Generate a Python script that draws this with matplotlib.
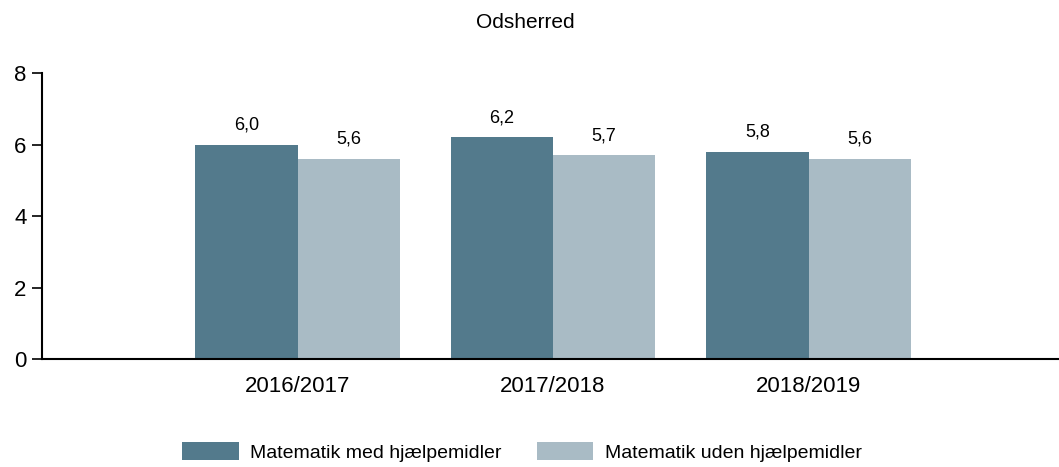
import numpy as np
import matplotlib.pyplot as plt

plt.rcParams['font.family'] = ['Liberation Sans', 'DejaVu Sans']

# data
years = ['2016/2017', '2017/2018', '2018/2019']
med = [6.0, 6.2, 5.8]
uden = [5.6, 5.7, 5.6]
series_names = ['Matematik med hjælpemidler', 'Matematik uden hjælpemidler']
colors = ['#537a8c', '#a9bbc5']

fig = plt.figure(figsize=(10.59, 4.67), dpi=100)
ax = fig.add_axes([42 / 1059, 1 - 359 / 467, 1017 / 1059, 286 / 467])

x = np.arange(1, len(years) + 1)
w = 0.4
b1 = ax.bar(x - w / 2, med, w, color=colors[0], label=series_names[0])
b2 = ax.bar(x + w / 2, uden, w, color=colors[1], label=series_names[1])

for bars, vals in [(b1, med), (b2, uden)]:
    for rect, v in zip(bars, vals):
        ax.annotate(f'{v:.1f}'.replace('.', ','),
                    (rect.get_x() + rect.get_width() / 2, rect.get_height()),
                    xytext=(0, 8), textcoords='offset points',
                    ha='center', va='bottom', fontsize=13)

ax.set_xlim(0, 3.98)
ax.set_ylim(0, 8)
ax.set_yticks([0, 2, 4, 6, 8])
ax.set_xticks(x)
ax.set_xticklabels(years)
ax.tick_params(axis='y', labelsize=16, length=7, width=1.2, pad=4)
ax.tick_params(axis='x', labelsize=16, length=0, pad=12)
for s in ['top', 'right']:
    ax.spines[s].set_visible(False)
ax.spines['left'].set_linewidth(1.5)
ax.spines['bottom'].set_linewidth(1.5)

fig.text(525 / 1059, 1 - 22 / 467, 'Odsherred', ha='center', va='center', fontsize=15)

fig.legend(loc='center', bbox_to_anchor=(522 / 1059, 1 - 452 / 467), ncol=2,
           frameon=False, fontsize=14, handlelength=2.9, handleheight=1.0,
           columnspacing=1.8, handletextpad=0.6)

fig.savefig('out.png', dpi=100)
